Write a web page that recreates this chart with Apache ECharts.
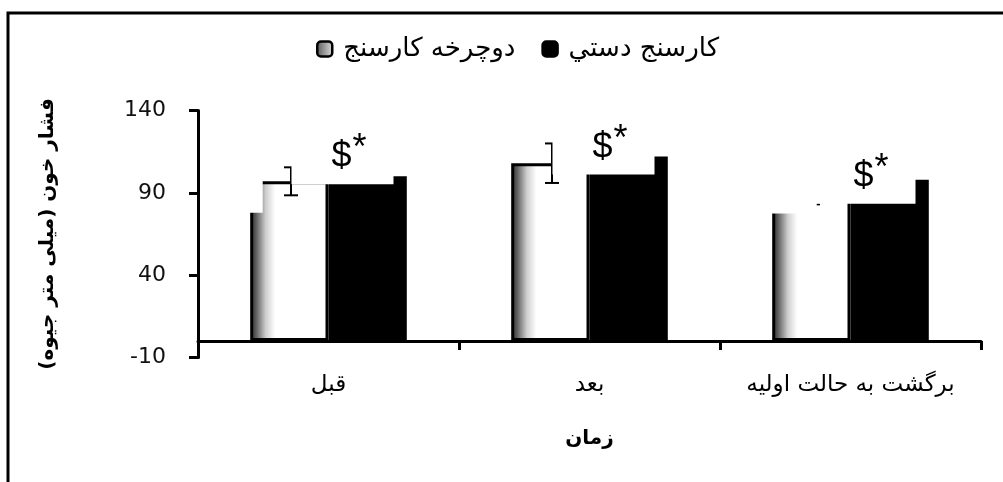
<!DOCTYPE html>
<html>
<head>
<meta charset="utf-8">
<script src="https://cdn.jsdelivr.net/npm/echarts@6/dist/echarts.min.js"></script>
<style>
html,body{margin:0;padding:0;background:#fff;}
#chart{width:1003px;height:482px;}
</style>
</head>
<body>
<div id="chart"></div>
<script>
// ---- data ----
const categories = ['قبل', 'بعد', 'برگشت به حالت اولیه'];
const seriesNames = ['دوچرخه کارسنج', 'کارسنج دستي'];
const bicycleValues = [97, 108, 92];
const handValues = [100, 112, 98];
const bicycleErrors = [8.5, 12, 9];
const sigLabels = ['$*', '$*', '$*'];
const yTicks = [-10, 40, 90, 140];

// ---- annotation box styling (px, relative to the bars) ----
const labelBoxDrop = [8, 18, 24];     // box bottom below the black bar top
const coverRight = [12.5, 0, 44.5];   // white cover width beyond white bar left edge
const coverDrop = [31.5, 0, 24];      // white cover bottom below the white bar top

const chart = echarts.init(document.getElementById('chart'));
const FONT = 'Arial, "Liberation Sans", "DejaVu Sans", sans-serif';
const WFONT = '"DejaVu Sans", Arial, sans-serif';

const errorData = categories.map((c, i) => [i, bicycleValues[i] - bicycleErrors[i], bicycleValues[i] + bicycleErrors[i]]);
const boxData = categories.map((c, i) => [i, handValues[i], bicycleValues[i]]);

const barGradient = new echarts.graphic.LinearGradient(0, 0, 1, 0, [
  { offset: 0, color: '#2e2e2e' },
  { offset: 0.07, color: '#5a5a5a' },
  { offset: 0.2, color: '#cfcfcf' },
  { offset: 0.32, color: '#ffffff' },
  { offset: 1, color: '#ffffff' }
]);
const legendGradient = new echarts.graphic.LinearGradient(0, 0, 1, 0, [
  { offset: 0, color: '#555' },
  { offset: 1, color: '#e0e0e0' }
]);

const option = {
  animation: false,
  backgroundColor: '#fff',
  graphic: [{
    type: 'rect',
    shape: { x: 8, y: 13, width: 1200, height: 700 },
    style: { fill: 'none', stroke: '#000', lineWidth: 3 },
    silent: true
  }],
  legend: {
    data: [
      { name: seriesNames[0], itemStyle: { color: legendGradient, borderColor: '#000', borderWidth: 2.5 } },
      { name: seriesNames[1], itemStyle: { color: '#000', borderColor: '#000', borderWidth: 2.5 } }
    ],
    left: 311,
    top: 31,
    itemWidth: 15,
    itemHeight: 15,
    itemGap: 26,
    icon: 'roundRect',
    textStyle: { fontFamily: WFONT, fontSize: 26, color: '#000', padding: [0, 0, 0, 6] }
  },
  grid: { left: 198, right: 22, top: 110.5, bottom: 124.5, containLabel: false },
  xAxis: {
    type: 'category',
    data: categories,
    name: 'زمان',
    nameLocation: 'middle',
    nameGap: 71,
    nameTextStyle: { fontFamily: WFONT, fontSize: 20, fontWeight: 'bold', color: '#000' },
    axisLine: { onZero: true, lineStyle: { color: '#000', width: 3 } },
    axisTick: { show: true, interval: 0, length: 9, lineStyle: { color: '#000', width: 3 } },
    axisLabel: { interval: 0, margin: 16, fontFamily: WFONT, fontSize: 23, color: '#000' }
  },
  yAxis: {
    type: 'value',
    min: yTicks[0],
    max: yTicks[yTicks.length - 1],
    interval: yTicks[1] - yTicks[0],
    name: 'فشار خون (میلی متر جیوه)',
    nameLocation: 'middle',
    nameRotate: 90,
    nameGap: 140,
    nameTextStyle: { fontFamily: WFONT, fontSize: 20, fontWeight: 'bold', color: '#000' },
    splitLine: { show: false },
    axisLine: { show: true, onZero: false, lineStyle: { color: '#000', width: 3 } },
    axisTick: { show: true, length: 9, lineStyle: { color: '#000', width: 3 } },
    axisLabel: { margin: 32, fontFamily: WFONT, fontSize: 22, color: '#111' }
  },
  series: [
    {
      name: seriesNames[0],
      type: 'bar',
      data: bicycleValues,
      barGap: '0%',
      barCategoryGap: '40%',
      z: 2,
      itemStyle: { color: barGradient, borderColor: '#000', borderWidth: 3 }
    },
    {
      name: seriesNames[1],
      type: 'bar',
      data: handValues,
      barGap: '0%',
      barCategoryGap: '40%',
      z: 2,
      itemStyle: { color: '#000', borderWidth: 0 }
    },
    {
      type: 'custom',
      z: 3,
      silent: true,
      data: errorData,
      encode: { x: 0, y: [1, 2] },
      renderItem: function (params, api) {
        const c = api.value(0);
        const center = api.coord([c, 0])[0];
        const x = center - 37.5;
        const yLo = api.coord([c, api.value(1)])[1];
        const yHi = api.coord([c, api.value(2)])[1];
        return {
          type: 'group',
          children: [
            { type: 'line', shape: { x1: x, y1: yLo, x2: x, y2: yHi }, style: { stroke: '#000', lineWidth: 2 } },
            { type: 'line', shape: { x1: x - 7, y1: yLo, x2: x + 7, y2: yLo }, style: { stroke: '#000', lineWidth: 2 } },
            { type: 'line', shape: { x1: x - 7, y1: yHi, x2: x + 7, y2: yHi }, style: { stroke: '#000', lineWidth: 2 } }
          ]
        };
      }
    },
    {
      type: 'custom',
      z: 4,
      silent: true,
      data: boxData,
      encode: { x: 0, y: [1, 2] },
      renderItem: function (params, api) {
        const i = params.dataIndex;
        const c = api.value(0);
        const band = api.size([1, 0])[0];
        const bw = band * 0.3;
        const center = api.coord([c, 0])[0];
        const blackTop = api.coord([c, api.value(1)])[1];
        const whiteTop = api.coord([c, api.value(2)])[1];
        const whiteLeft = center - bw;
        const boxLeft = center - 37;
        const boxBottom = blackTop + labelBoxDrop[i];
        const sig = sigLabels[i];
        const main = sig.replace('*', '');
        const sup = sig.indexOf('*') >= 0 ? '*' : '';
        const children = [];
        if (coverRight[i] > 0) {
          children.push({
            type: 'rect',
            shape: { x: whiteLeft - 5, y: whiteTop - 25, width: coverRight[i] + 5, height: coverDrop[i] + 25 },
            style: { fill: '#fff' }
          });
        }
        children.push({
          type: 'rect',
          shape: { x: boxLeft, y: boxBottom - 62, width: 102, height: 62 },
          style: { fill: '#fff' }
        });
        children.push({
          type: 'text',
          style: { text: main, x: boxLeft + 40, y: boxBottom - 27, align: 'left', verticalAlign: 'middle',
                   font: '36px ' + FONT, fill: '#000' }
        });
        if (sup) {
          children.push({
            type: 'text',
            style: { text: sup, x: boxLeft + 61, y: boxBottom - 35, align: 'left', verticalAlign: 'middle',
                     font: '36px ' + FONT, fill: '#000' }
          });
        }
        return { type: 'group', children: children };
      }
    }
  ]
};
chart.setOption(option);
</script>
</body>
</html>
